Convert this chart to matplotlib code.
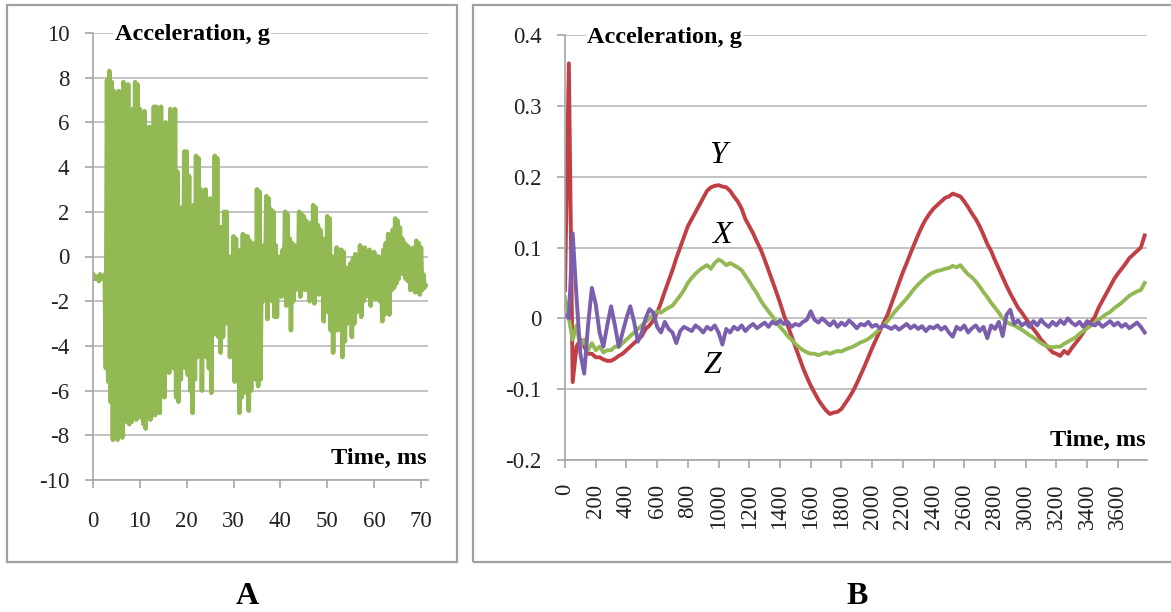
import numpy as np
import matplotlib
matplotlib.use("Agg")
import matplotlib.pyplot as plt
from matplotlib.patches import Rectangle

# ---- panel A: acceleration, g (samples every 0.25 ms, 0..71 ms) ----
acc_a = [
    -0.8, -1.0, -0.9, -1.0,   -0.9, -1.1, -0.8, -1.0,   -0.9, -1.0, -0.8, -5.0,
    7.9, -5.6, 8.3, -6.5,     7.8, -8.2, 7.4, -7.0,     5.0, -8.2, 7.4, -7.5,
    5.5, -8.1, 7.8, -6.0,     5.6, -7.4, 7.7, -7.5,     5.4, -7.4, 6.6, -5.8,
    7.8, -7.3, 7.7, -6.9,     6.6, -7.2, 5.8, -7.5,     6.5, -7.7, 5.5, -7.0,
    5.8, -7.3, 5.4, -7.1,     6.7, -7.1, 6.7, -6.8,     6.6, -7.0, 6.7, -6.2,
    5.0, -6.3, 6.0, -3.5,     4.9, -5.2, 6.6, -4.0,     6.5, -5.0, 6.6, -6.3,
    3.8, -6.5, 2.2, -5.5,     2.0, -2.0, 4.7, -5.0,     4.7, -5.3, 3.6, -6.0,
    2.2, -7.0, 2.3, -5.5,     4.5, -4.5, 4.4, -4.0,     3.0, -6.0, 2.9, -3.2,
    3.0, -4.5, 2.5, -5.0,     2.6, -6.1, 2.0, -3.5,     4.5, -3.4, 4.4, -3.6,
    1.3, -4.3, 1.3, -3.6,     2.0, -3.0, 2.0, -2.8,     -0.5, -4.5, 0.0, -3.8,
    0.9, -5.6, 0.8, -5.0,     -0.2, -7.0, 0.3, -6.3,    1.0, -6.1, 0.9, -5.5,
    0.9, -6.9, 0.7, -6.0,     0.2, -4.5, 0.6, -5.5,     3.0, -5.8, 2.9, -5.5,
    0.5, -2.0, 0.2, -1.5,     2.7, -2.8, 2.6, -1.8,     2.1, -2.0, 2.0, -2.7,
    0.5, -2.7, 0.0, -1.5,     -0.3, -1.8, 0.3, -1.5,    2.0, -2.2, 1.9, -1.3,
    0.8, -3.3, 0.6, -2.0,     0.5, -1.5, 0.1, -1.2,     2.0, -1.8, 1.9, -0.8,
    1.8, -1.5, 1.6, -1.2,     0.9, -2.0, 1.5, -1.9,     2.3, -2.1, 2.2, -1.0,
    1.4, -1.7, 1.2, -1.0,     0.8, -2.9, 0.5, -2.0,     1.8, -2.5, 1.7, -3.3,
    0.0, -4.3, -0.2, -3.3,    0.4, -3.3, 0.3, -2.5,     0.3, -4.5, 0.2, -3.8,
    -0.5, -3.0, -0.8, -2.8,   -0.3, -3.6, -0.1, -3.0,   0.1, -2.5, 0.0, -2.1,
    0.5, -2.7, 0.3, -2.0,     0.4, -1.8, 0.2, -1.5,     0.3, -2.2, 0.1, -1.6,
    0.2, -1.9, 0.0, -1.8,     0.0, -2.0, -0.2, -2.9,    0.3, -2.6, 0.6, -1.6,
    1.0, -2.6, 0.9, -1.5,     1.2, -1.4, 1.7, -1.2,     1.6, -1.0, 1.3, -0.7,
    0.8, -0.8, 0.6, -1.0,     0.5, -1.1, 0.4, -1.5,     0.3, -1.2, 0.4, -1.6,
    0.7, -1.4, 0.6, -1.7,     0.4, -1.5, -0.8, -1.4,
    -1.3,
]
t_a = np.arange(len(acc_a)) * 0.25

# ---- panel B: acceleration per axis, g (samples every 25 ms) ----
acc_y = [
    0.04, 0.36, -0.09, -0.04, -0.03, -0.04, -0.05, -0.05,
    -0.055, -0.055, -0.058, -0.06, -0.06, -0.057, -0.053, -0.05,
    -0.045, -0.04, -0.035, -0.03, -0.025, -0.015, -0.01, -0.003,
    0.008, 0.022, 0.038, 0.053, 0.068, 0.085, 0.1, 0.115,
    0.13, 0.14, 0.15, 0.16, 0.17, 0.18, 0.185, 0.187,
    0.188, 0.186, 0.185, 0.18, 0.172, 0.165, 0.155, 0.14,
    0.13, 0.12, 0.108, 0.097, 0.083, 0.068, 0.053, 0.038,
    0.022, 0.005, -0.01, -0.025, -0.04, -0.055, -0.07, -0.083,
    -0.095, -0.105, -0.115, -0.123, -0.13, -0.135, -0.133, -0.132,
    -0.128, -0.12, -0.112, -0.103, -0.092, -0.08, -0.068, -0.055,
    -0.042, -0.03, -0.018, -0.006, 0.005, 0.02, 0.035, 0.05,
    0.065, 0.078, 0.092, 0.105, 0.118, 0.13, 0.14, 0.148,
    0.155, 0.16, 0.165, 0.17, 0.172, 0.176, 0.174, 0.172,
    0.165, 0.157, 0.148, 0.14, 0.13, 0.118, 0.105, 0.095,
    0.082, 0.07, 0.058, 0.046, 0.035, 0.025, 0.015, 0.008,
    0.0, -0.008, -0.015, -0.022, -0.03, -0.036, -0.042, -0.048,
    -0.05, -0.053, -0.046, -0.05, -0.042, -0.035, -0.028, -0.02,
    -0.012, -0.005, 0.002, 0.015, 0.025, 0.035, 0.045, 0.055,
    0.063, 0.07, 0.077, 0.085, 0.09, 0.095, 0.1, 0.117,
]
acc_x = [
    0.03, 0.0, -0.03, -0.01, -0.04, -0.03, -0.045, -0.035,
    -0.045, -0.04, -0.048, -0.045, -0.045, -0.04, -0.04, -0.035,
    -0.03, -0.025, -0.02, -0.015, -0.01, -0.005, 0.0, 0.005,
    0.01, 0.008, 0.012, 0.015, 0.018, 0.025, 0.032, 0.04,
    0.05, 0.057, 0.063, 0.068, 0.072, 0.075, 0.07, 0.078,
    0.083, 0.08, 0.075, 0.078, 0.075, 0.072, 0.068, 0.06,
    0.052, 0.043, 0.035, 0.025, 0.017, 0.01, 0.003, -0.005,
    -0.012, -0.018, -0.025, -0.03, -0.036, -0.041, -0.045, -0.048,
    -0.05, -0.05, -0.052, -0.05, -0.048, -0.05, -0.048, -0.046,
    -0.047, -0.044, -0.042, -0.04, -0.037, -0.034, -0.032, -0.029,
    -0.025, -0.02, -0.015, -0.01, -0.004, 0.003, 0.01, 0.016,
    0.022, 0.028, 0.035, 0.042, 0.048, 0.053, 0.058, 0.062,
    0.065, 0.067, 0.068, 0.07, 0.071, 0.074, 0.072, 0.075,
    0.068, 0.062, 0.058, 0.052, 0.045, 0.037, 0.03, 0.022,
    0.015, 0.008, 0.0, -0.005, -0.008, -0.01, -0.013, -0.016,
    -0.02, -0.024, -0.027, -0.031, -0.035, -0.038, -0.04, -0.041,
    -0.04, -0.04, -0.036, -0.033, -0.03, -0.027, -0.022, -0.018,
    -0.014, -0.01, -0.006, -0.002, 0.002, 0.006, 0.009, 0.014,
    0.018, 0.022, 0.027, 0.032, 0.035, 0.038, 0.04, 0.05,
]
acc_z = [
    0.005, 0.0, 0.12, 0.03, -0.05, -0.078, -0.01, 0.043,
    0.02, -0.02, -0.04, -0.01, 0.017, -0.01, -0.04, -0.02,
    0.0, 0.017, -0.005, -0.033, -0.02, 0.0, 0.013, 0.008,
    -0.012, -0.02, -0.005, -0.015, -0.02, -0.035, -0.018, -0.012,
    -0.015, -0.018, -0.01, -0.014, -0.02, -0.012, -0.016, -0.01,
    -0.02, -0.037, -0.015, -0.02, -0.012, -0.016, -0.01, -0.018,
    -0.012, -0.008, -0.014, -0.01, -0.006, -0.012, -0.005, -0.008,
    -0.003, -0.008, -0.005, -0.012, -0.008, -0.01, -0.005, -0.002,
    0.01, -0.002, -0.006, 0.0, -0.005, -0.01, -0.004, -0.012,
    -0.006, -0.01, -0.003, -0.008, -0.014, -0.008, -0.01, -0.005,
    -0.012, -0.009, -0.014, -0.01, -0.012, -0.015, -0.011, -0.016,
    -0.012, -0.008, -0.014, -0.01, -0.015, -0.011, -0.018, -0.012,
    -0.014, -0.01, -0.016, -0.012, -0.02, -0.026, -0.012, -0.016,
    -0.01, -0.02, -0.014, -0.01, -0.018, -0.012, -0.028, -0.01,
    -0.015, -0.005, -0.025, 0.005, 0.012, -0.008, -0.003, -0.01,
    -0.006, -0.012, -0.004, -0.01, -0.002, -0.008, -0.012, -0.005,
    -0.01, -0.003, -0.008, 0.0, -0.006, -0.01, -0.005, -0.012,
    -0.004, -0.008, -0.01, -0.006, -0.012, -0.008, -0.004, -0.01,
    -0.006, -0.012, -0.008, -0.014, -0.01, -0.006, -0.012, -0.02,
]
t_b = np.arange(len(acc_y)) * 25

a_yticks = [-10, -8, -6, -4, -2, 0, 2, 4, 6, 8, 10]
a_xticks = [0, 10, 20, 30, 40, 50, 60, 70]
b_yticks = [-0.2, -0.1, 0, 0.1, 0.2, 0.3, 0.4]
b_yticklabels = ["-0.2", "-0.1", "0", "0.1", "0.2", "0.3", "0.4"]
b_xticks = list(range(0, 3601, 200))

GREEN = "#93B955"
RED = "#BF3F45"
PURPLE = "#7C5EAE"
GRID = "#BDBDBD"
SERIF = "Liberation Serif"

plt.rcParams["font.family"] = SERIF
plt.rcParams["axes.unicode_minus"] = False

W, H = 1171, 612
fig = plt.figure(figsize=(W / 100, H / 100), dpi=100)


def px_axes(x0, y0, x1, y1):
    return fig.add_axes([x0 / W, 1 - y1 / H, (x1 - x0) / W, (y1 - y0) / H])


def style(ax):
    for s in ("top", "right"):
        ax.spines[s].set_visible(False)
    for s in ("left", "bottom"):
        ax.spines[s].set_color("#A6A6A6")
        ax.spines[s].set_linewidth(1.2)
    ax.tick_params(colors="#A6A6A6", length=6, width=1.2, labelcolor="#222222")
    ax.grid(True, axis="y", color=GRID, linewidth=1.3)
    ax.set_axisbelow(True)


# panel frames
fig.patches.append(Rectangle((7 / W, 1 - 562 / H), 450 / W, 557 / H,
                             transform=fig.transFigure, fill=False,
                             edgecolor="#A0A0A0", linewidth=1.6))
fig.patches.append(Rectangle((473 / W, 1 - 562 / H), 720 / W, 557 / H,
                             transform=fig.transFigure, fill=False,
                             edgecolor="#A0A0A0", linewidth=1.6))

# ---- panel A ----
ax1 = px_axes(93, 33, 428, 480)
style(ax1)
ax1.plot(t_a, acc_a, color=GREEN, linewidth=3.3, solid_joinstyle="round")
ax1.set_xlim(0, 71.5)
ax1.set_ylim(-10, 10)
ax1.set_yticks(a_yticks)
ax1.set_xticks(a_xticks)
ax1.tick_params(axis="y", pad=11, labelsize=16.5)
ax1.tick_params(axis="x", pad=16, labelsize=16.5)
ax1.text(4.6, 9.95, "Acceleration, g", fontsize=17.5, fontweight="bold",
         va="center", ha="left",
         bbox=dict(facecolor="white", edgecolor="none", pad=1))
ax1.text(71.3, -9.05, "Time, ms", fontsize=17.5, fontweight="bold",
         va="center", ha="right")

# ---- panel B ----
ax2 = px_axes(565, 35, 1147, 460)
style(ax2)
ax2.plot(t_b, acc_y, color=RED, linewidth=2.8)
ax2.plot(t_b, acc_x, color=GREEN, linewidth=2.8)
ax2.plot(t_b, acc_z, color=PURPLE, linewidth=2.8)
ax2.set_xlim(0, 3790)
ax2.set_ylim(-0.2, 0.4)
ax2.set_yticks(b_yticks)
ax2.set_yticklabels(b_yticklabels)
ax2.set_xticks(b_xticks)
ax2.set_xticklabels([str(v) for v in b_xticks], rotation=90)
ax2.tick_params(axis="y", pad=11, labelsize=16.5)
ax2.tick_params(axis="x", pad=11, labelsize=16.5)
ax2.text(143, 0.397, "Acceleration, g", fontsize=17.5, fontweight="bold",
         va="center", ha="left",
         bbox=dict(facecolor="white", edgecolor="none", pad=1))
ax2.text(3783, -0.172, "Time, ms", fontsize=17.5, fontweight="bold",
         va="center", ha="right")
ax2.text(996, 0.23, "Y", fontsize=23, style="italic", ha="center", va="center")
ax2.text(1022, 0.117, "X", fontsize=23, style="italic", ha="center", va="center")
ax2.text(963, -0.066, "Z", fontsize=23, style="italic", ha="center", va="center")

# panel letters
fig.text(247 / W, 1 - 597 / H, "A", fontsize=23, fontweight="bold",
         ha="center", va="center")
fig.text(857 / W, 1 - 597 / H, "B", fontsize=23, fontweight="bold",
         ha="center", va="center")

fig.savefig("out.png", dpi=100)
